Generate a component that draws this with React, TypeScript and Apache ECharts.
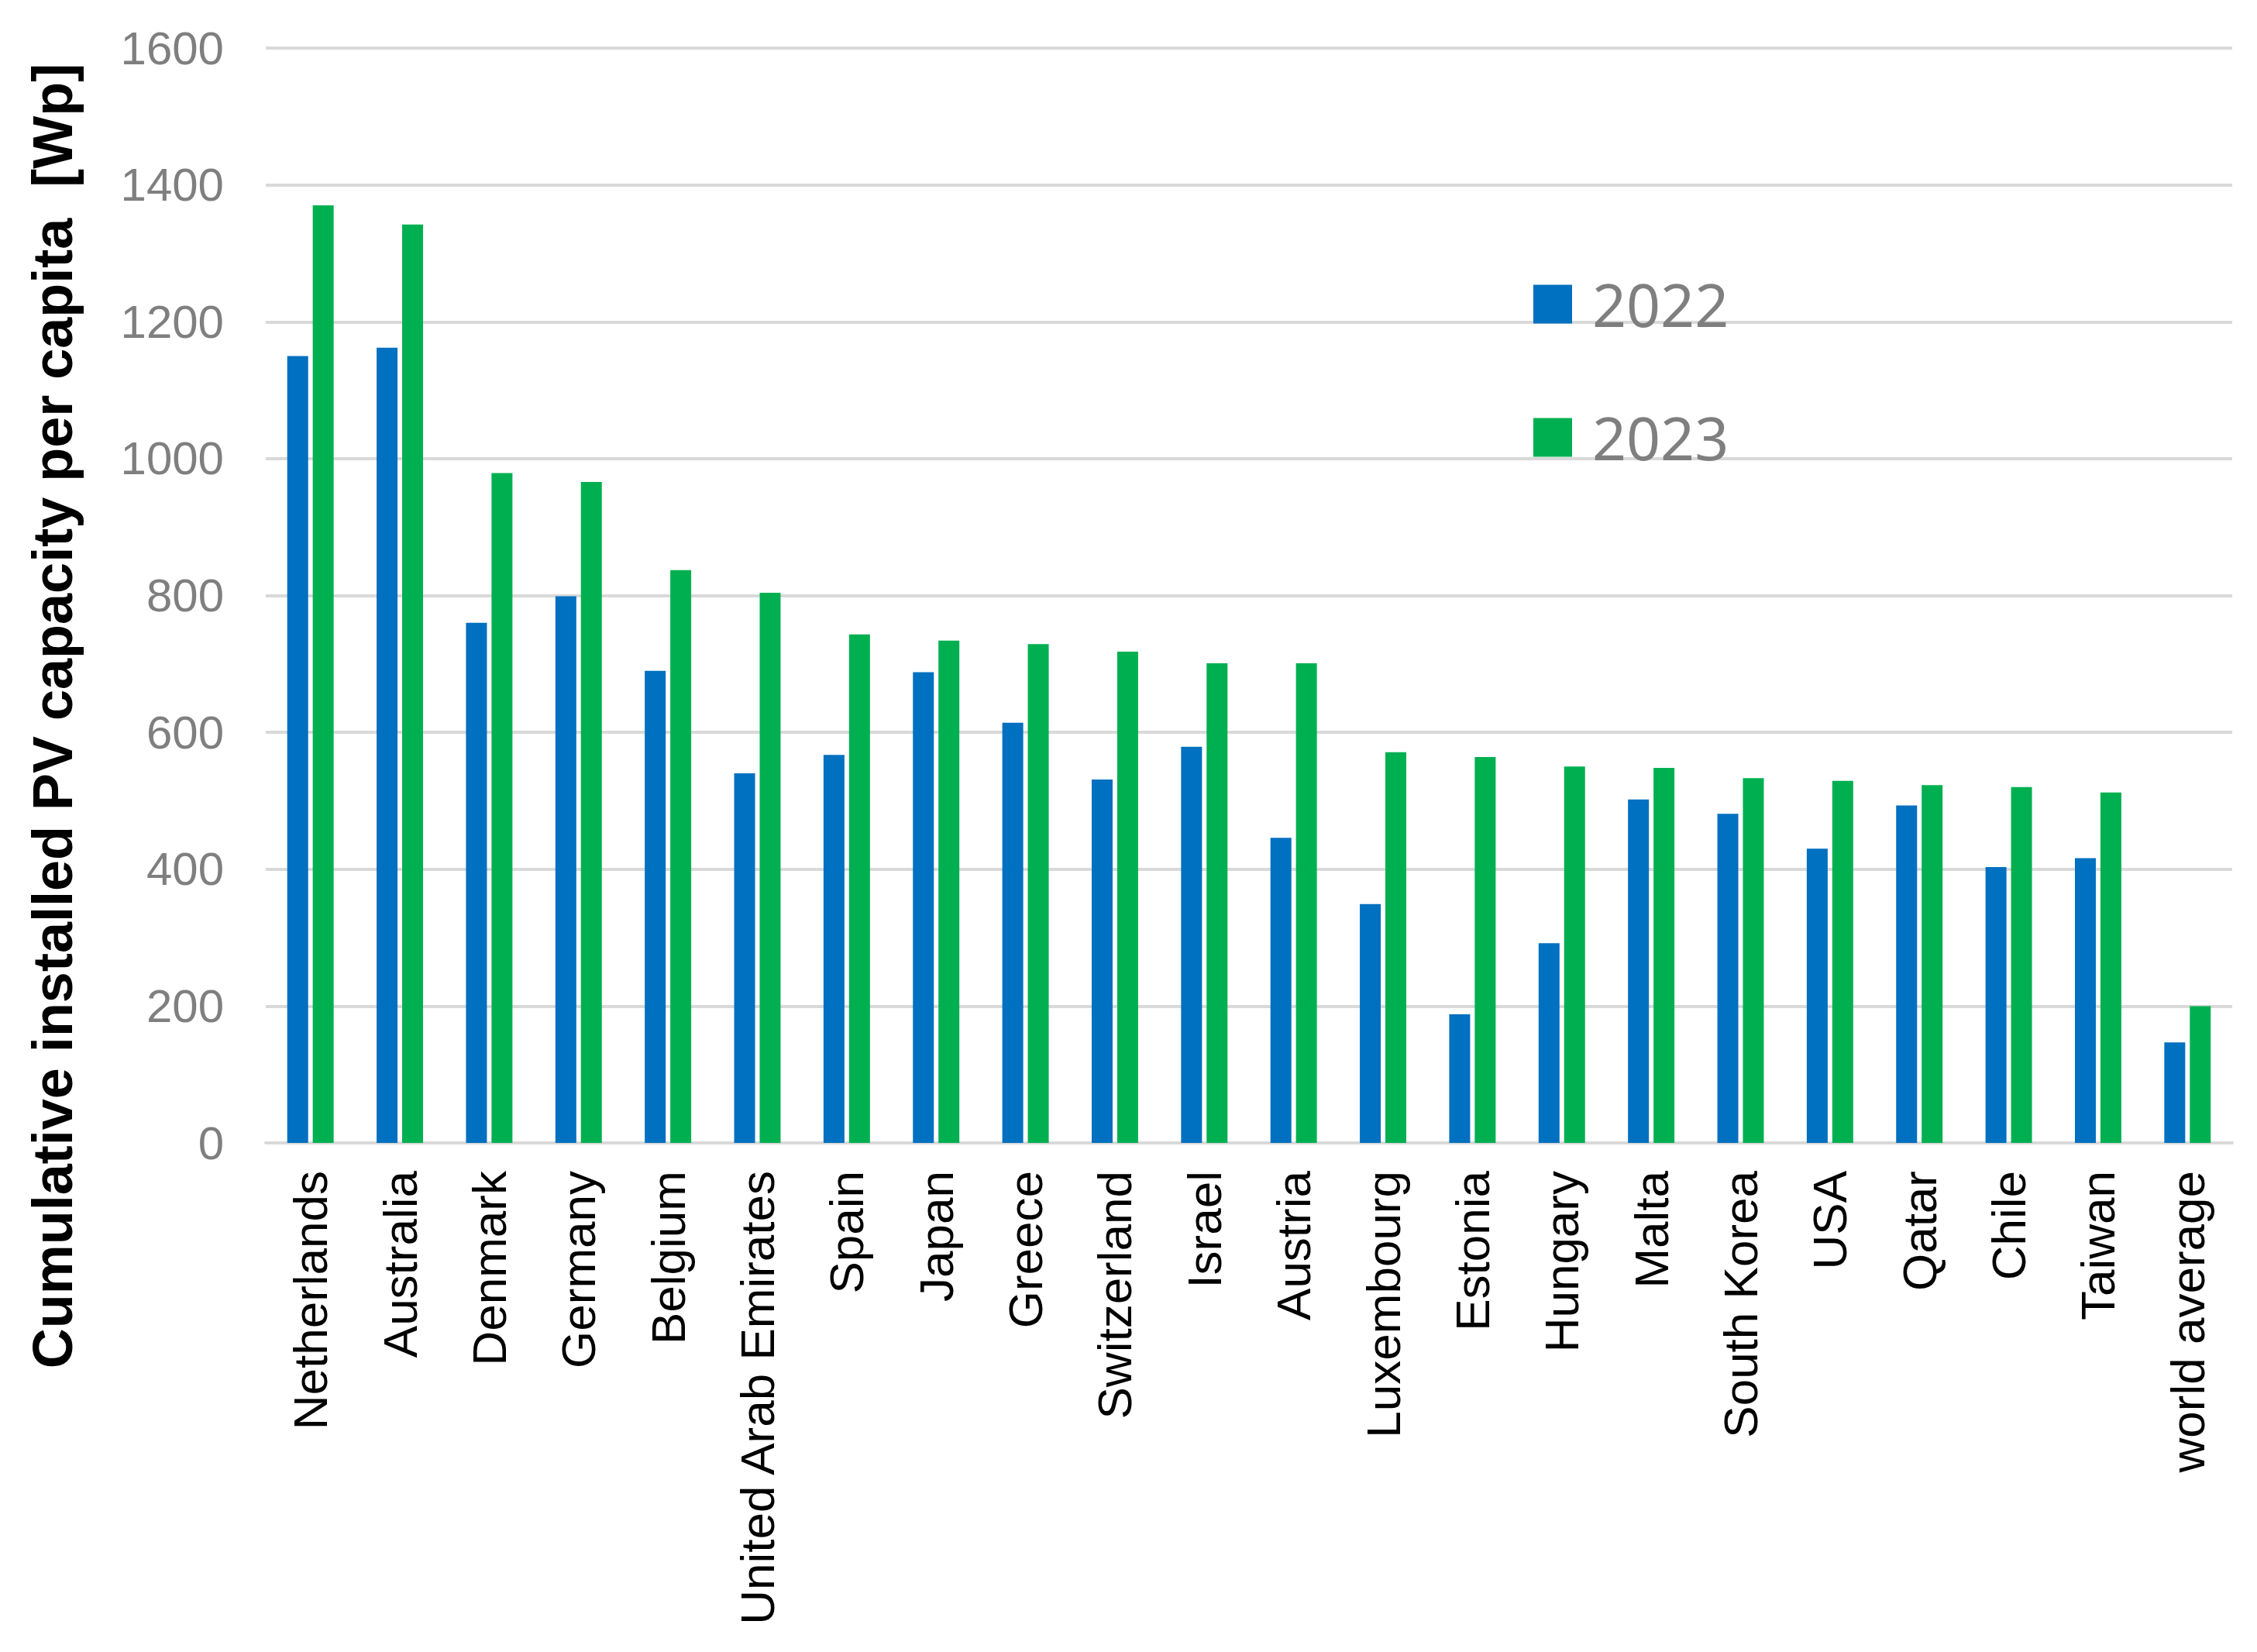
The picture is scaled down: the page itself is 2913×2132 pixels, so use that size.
import React, { useEffect, useRef } from "react";
import * as echarts from "echarts";

const categories = [
  "Netherlands", "Australia", "Denmark", "Germany", "Belgium", "United Arab Emirates",
  "Spain", "Japan", "Greece", "Switzerland", "Israel", "Austria", "Luxembourg", "Estonia",
  "Hungary", "Malta", "South Korea", "USA", "Qatar", "Chile", "Taiwan", "world average",
];
const values2022 = [1150, 1162, 760, 799, 690, 540, 567, 688, 614, 531, 579, 446, 349, 188, 292, 502, 481, 430, 493, 403, 416, 147];
const values2023 = [1370, 1342, 979, 966, 837, 804, 743, 734, 729, 718, 701, 701, 571, 564, 550, 548, 533, 529, 523, 520, 512, 200];
const seriesNames = ["2022", "2023"];
const yTitle = "Cumulative installed PV capacity per capita  [Wp]";

const W = 2913;
const H = 2132;
const ARIAL = "'Liberation Sans', Arial, Helvetica, sans-serif";

export default function App() {
  const ref = useRef<HTMLDivElement>(null);
  useEffect(() => {
    document.body.style.margin = "0";
    const chart = echarts.init(ref.current!, null, { renderer: "svg", width: W, height: H });
    chart.setOption({
      animation: false,
      backgroundColor: "#ffffff",
      grid: { left: 343, right: 32, top: 62, bottom: 657, containLabel: false },
      legend: {
        orient: "vertical",
        left: 1979,
        top: 354,
        padding: 0,
        itemWidth: 50,
        itemHeight: 50,
        itemGap: 95,
        icon: "rect",
        data: seriesNames,
        textStyle: {
          fontFamily: "'Noto Sans', 'Open Sans', sans-serif",
          fontSize: 77,
          color: "#7f7f7f",
          lineHeight: 50,
          padding: [0, 0, 0, 21],
        },
      },
      xAxis: {
        type: "category",
        data: categories,
        axisLine: { show: true, lineStyle: { color: "#d9d9d9", width: 4 } },
        axisTick: { show: false },
        axisLabel: {
          interval: 0,
          rotate: 90,
          margin: 36,
          fontFamily: ARIAL,
          fontSize: 62,
          color: "#000000",
        },
      },
      yAxis: {
        type: "value",
        min: 0,
        max: 1600,
        interval: 200,
        axisLine: { show: false },
        axisTick: { show: false },
        splitLine: { show: true, lineStyle: { color: "#d9d9d9", width: 4 } },
        axisLabel: {
          margin: 54,
          fontFamily: ARIAL,
          fontSize: 60,
          color: "#7f7f7f",
          formatter: (v: number) => String(v),
        },
      },
      graphic: [
        {
          type: "text",
          x: 68,
          y: 924,
          rotation: Math.PI / 2,
          style: {
            text: yTitle,
            fontFamily: ARIAL,
            fontWeight: "bold",
            fontSize: 72,
            fill: "#000000",
            textAlign: "center",
            textVerticalAlign: "middle",
          },
        },
      ],
      series: [
        {
          name: seriesNames[0],
          type: "bar",
          data: values2022,
          barWidth: 27,
          barGap: "22%",
          itemStyle: { color: "#0070C0" },
        },
        {
          name: seriesNames[1],
          type: "bar",
          data: values2023,
          barWidth: 27,
          barGap: "22%",
          itemStyle: { color: "#00B050" },
        },
      ],
    });
    return () => chart.dispose();
  }, []);
  return (
    <div
      ref={ref}
      style={{ position: "fixed", left: 0, top: 0, width: W, height: H }}
    />
  );
}
